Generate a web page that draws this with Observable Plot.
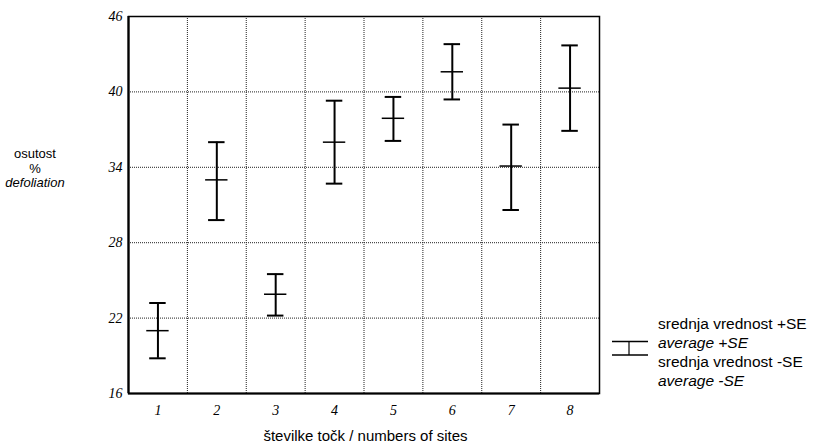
<!DOCTYPE html>
<html><head><meta charset="utf-8">
<script src="https://cdn.jsdelivr.net/npm/d3@7"></script>
<script src="https://cdn.jsdelivr.net/npm/@observablehq/plot@0.6"></script>
<style>
body{margin:0;background:#fff}
#wrap{position:relative;width:814px;height:444px;font-family:"Liberation Sans",Arial,sans-serif;color:#000}
.abs{position:absolute;white-space:nowrap}
</style>
</head><body><div id="wrap"></div>
<script>
const sites = [1, 2, 3, 4, 5, 6, 7, 8];
const means = [21.0, 33.0, 23.9, 36.0, 37.9, 41.6, 34.1, 40.3];
const upper = [23.2, 36.0, 25.5, 39.3, 39.6, 43.8, 37.4, 43.7];
const lower = [18.8, 29.8, 22.2, 32.7, 36.1, 39.4, 30.6, 36.9];
const yTicks = [16, 22, 28, 34, 40, 46];
const xLabel = "številke točk / numbers of sites";
const yLabel = ["osutost", "%", "defoliation"];
const legendLines = ["srednja vrednost +SE", "average +SE", "srednja vrednost -SE", "average -SE"];

const data = sites.map((s, i) => ({site: s, mean: means[i], hi: upper[i], lo: lower[i]}));
const bounds = sites.slice(1).map(s => s - 0.5);
const capHalf = 0.14, meanHalf = 0.19;
const xDom = [sites[0] - 0.5, sites[sites.length - 1] + 0.5];
const grid = {stroke: "#222", strokeWidth: 1, strokeDasharray: "1,1"};

const chart = Plot.plot({
  width: 814, height: 444,
  marginLeft: 128, marginRight: 215, marginTop: 16, marginBottom: 51,
  style: {fontFamily: "'Liberation Serif', 'Times New Roman', serif", fontStyle: "italic", fontSize: "14px", color: "#000", background: "#fff"},
  x: {domain: xDom, ticks: sites},
  y: {domain: [yTicks[0], yTicks[yTicks.length - 1]], ticks: yTicks},
  marks: [
    Plot.ruleX(bounds, grid),
    Plot.ruleY(yTicks.slice(1, -1), grid),
    Plot.frame({stroke: "#000", strokeWidth: 1.5}),
    Plot.ruleX([xDom[0]], {stroke: "#000", strokeWidth: 2.2}),
    Plot.ruleY([yTicks[0]], {stroke: "#000", strokeWidth: 2.2}),
    Plot.axisX({ticks: sites, tickSize: 0, tickPadding: 12, label: null, tickFormat: d => String(d)}),
    Plot.axisY({ticks: yTicks, tickSize: 0, tickPadding: 6, label: null}),
    Plot.ruleX(data, {x: "site", y1: "lo", y2: "hi", stroke: "#000", strokeWidth: 2}),
    Plot.ruleY(data, {y: "hi", x1: d => d.site - capHalf, x2: d => d.site + capHalf, stroke: "#000", strokeWidth: 2}),
    Plot.ruleY(data, {y: "lo", x1: d => d.site - capHalf, x2: d => d.site + capHalf, stroke: "#000", strokeWidth: 2}),
    Plot.ruleY(data, {y: "mean", x1: d => d.site - meanHalf, x2: d => d.site + meanHalf, stroke: "#000", strokeWidth: 1.5})
  ]
});
const wrap = document.getElementById("wrap");
chart.style.position = "absolute"; chart.style.left = "0"; chart.style.top = "0";
wrap.appendChild(chart);

// x-axis title
const xl = document.createElement("div");
xl.className = "abs"; xl.textContent = xLabel;
Object.assign(xl.style, {left: "130px", width: "471px", textAlign: "center", top: "427px", fontSize: "15px", lineHeight: "18px"});
wrap.appendChild(xl);

// y-axis title
const yl = document.createElement("div");
yl.className = "abs";
Object.assign(yl.style, {left: "0px", width: "70px", textAlign: "center", top: "147px", fontSize: "13px", lineHeight: "14.5px"});
yl.innerHTML = `<div>${yLabel[0]}</div><div>${yLabel[1]}</div><div style="font-style:italic">${yLabel[2]}</div>`;
wrap.appendChild(yl);

// legend
const lg = document.createElement("div");
lg.className = "abs";
Object.assign(lg.style, {left: "658px", top: "314px", fontSize: "15.5px", lineHeight: "19px"});
lg.innerHTML = legendLines.map((t, i) => `<div style="font-style:${i % 2 ? "italic" : "normal"}">${t}</div>`).join("");
wrap.appendChild(lg);
const sym = d3.create("svg").attr("width", 40).attr("height", 20)
  .style("position", "absolute").style("left", "611px").style("top", "338px");
sym.append("line").attr("x1", 1).attr("x2", 37).attr("y1", 3.5).attr("y2", 3.5).attr("stroke", "#000").attr("stroke-width", 1.5);
sym.append("line").attr("x1", 1).attr("x2", 37).attr("y1", 17).attr("y2", 17).attr("stroke", "#000").attr("stroke-width", 1.5);
sym.append("line").attr("x1", 18).attr("x2", 18).attr("y1", 3.5).attr("y2", 17).attr("stroke", "#000").attr("stroke-width", 1.2);
wrap.appendChild(sym.node());
</script>
</body></html>
